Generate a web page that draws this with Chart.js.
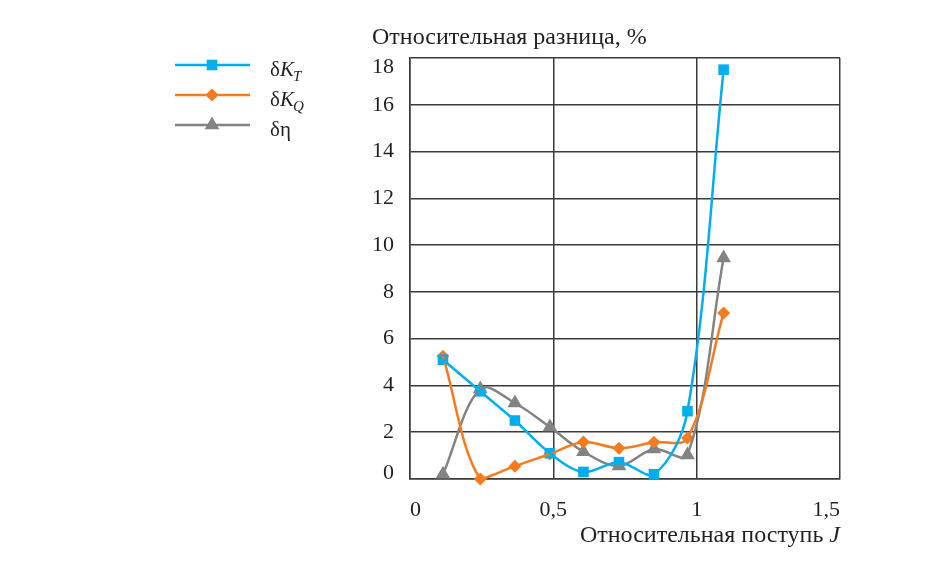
<!DOCTYPE html>
<html lang="ru">
<head>
<meta charset="UTF-8">
<script src="https://cdn.jsdelivr.net/npm/chart.js"></script>
<title>Относительная разница</title>
<style>
  html, body { margin: 0; padding: 0; background: #fff; }
</style>
</head>
<body>
<canvas id="chart" width="930" height="569"></canvas>
<script>
// relative advance J and the three relative differences, %
const J = [0.115, 0.245, 0.366, 0.488, 0.605, 0.729, 0.851, 0.968, 1.094];
const dKT = [5.1, 3.75, 2.5, 1.1, 0.3, 0.72, 0.2, 2.9, 17.5];
const dKQ = [5.25, 0.0, 0.55, 1.07, 1.58, 1.32, 1.57, 1.75, 7.1];
const dEta = [0.2, 3.85, 3.25, 2.22, 1.17, 0.56, 1.28, 1.03, 9.45];
const xTickLabels = ['0', '0,5', '1', '1,5'];

const BLUE = '#00aeef';
const ORANGE = '#f47b20';
const GRAY = '#838385';
const GRID = '#3a3a3a';
const INK = '#231f20';
const FONT = '"Liberation Serif", "DejaVu Serif", serif';

const series = [
    { name: 'KT', data: dKT, color: BLUE, style: 'rect', radius: 7.5 },
    { name: 'KQ', data: dKQ, color: ORANGE, style: 'rectRot', radius: 6.5 },
    { name: 'eta', data: dEta, color: GRAY, style: 'triangle', radius: 8.5 }
];

function pts(arr) {
    return J.map((x, i) => ({ x: x, y: arr[i] }));
}

const datasets = [];
// lines (clipped to plot area)
series.forEach(s => {
    datasets.push({
        data: pts(s.data),
        borderColor: s.color,
        borderWidth: 2.5,
        pointRadius: 0,
        tension: 0.35,
        fill: false
    });
});
// markers (not clipped)
series.forEach(s => {
    datasets.push({
        data: pts(s.data),
        showLine: false,
        pointStyle: s.style,
        pointRadius: s.radius,
        pointBorderWidth: 0,
        backgroundColor: s.color,
        borderColor: s.color,
        clip: false
    });
});

function marker(ctx, style, x, y, r) {
    ctx.beginPath();
    if (style === 'rect') {
        const h = r * Math.SQRT1_2;
        ctx.rect(x - h, y - h, 2 * h, 2 * h);
    } else if (style === 'rectRot') {
        ctx.moveTo(x, y - r); ctx.lineTo(x + r, y); ctx.lineTo(x, y + r); ctx.lineTo(x - r, y);
    } else {
        ctx.moveTo(x, y - r);
        ctx.lineTo(x + r * 0.866, y + r * 0.5);
        ctx.lineTo(x - r * 0.866, y + r * 0.5);
    }
    ctx.closePath();
    ctx.fill();
}

const textPlugin = {
    id: 'texts',
    afterDraw(chart) {
        const ctx = chart.ctx;
        const yScale = chart.scales.y;
        ctx.save();
        ctx.fillStyle = INK;

        // y tick labels
        ctx.font = '22px ' + FONT;
        ctx.textAlign = 'right';
        ctx.textBaseline = 'middle';
        yScale.ticks.forEach(t => {
            let py = yScale.getPixelForValue(t.value);
            if (t.value === yScale.min) py -= 6;
            if (t.value === yScale.max) py += 9;
            ctx.fillText(String(t.value), 394, py);
        });

        // y title
        ctx.font = '24px ' + FONT;
        ctx.textAlign = 'left';
        ctx.textBaseline = 'alphabetic';
        ctx.fillText('Относительная разница, %', 372, 44);

        // x title
        ctx.textAlign = 'right';
        ctx.font = 'italic 24px ' + FONT;
        const jw = ctx.measureText('J').width;
        ctx.fillText('J', chart.chartArea.right, 542);
        ctx.font = '24px ' + FONT;
        ctx.fillText('Относительная поступь ', chart.chartArea.right - jw, 542);

        // legend
        const rows = [65, 95, 125];
        series.forEach((s, i) => {
            const ly = rows[i];
            ctx.strokeStyle = s.color;
            ctx.lineWidth = 2.5;
            ctx.beginPath();
            ctx.moveTo(175, ly);
            ctx.lineTo(250, ly);
            ctx.stroke();
            ctx.fillStyle = s.color;
            marker(ctx, s.style, 212, ly, s.radius);

            ctx.fillStyle = INK;
            ctx.textAlign = 'left';
            ctx.textBaseline = 'alphabetic';
            let tx = 270;
            const by = ly + 11;
            ctx.font = '21px ' + FONT;
            if (s.name === 'eta') {
                ctx.fillText('δη', tx, by);
                return;
            }
            ctx.fillText('δ', tx, by);
            tx += ctx.measureText('δ').width;
            ctx.font = 'italic 21px ' + FONT;
            ctx.fillText('K', tx, by);
            tx += ctx.measureText('K').width;
            ctx.font = 'italic 15px ' + FONT;
            ctx.fillText(s.name === 'KT' ? 'T' : 'Q', tx - 1, by + 5);
        });
        ctx.restore();
    }
};

new Chart(document.getElementById('chart'), {
    type: 'line',
    data: { datasets: datasets },
    options: {
        responsive: false,
        devicePixelRatio: 1,
        animation: false,
        layout: { padding: { left: 0, top: 58, right: 90, bottom: 0 } },
        plugins: { legend: { display: false }, tooltip: { enabled: false } },
        scales: {
            x: {
                type: 'linear',
                min: 0,
                max: 1.5,
                afterFit: s => { s.height = 90; },
                grid: { color: GRID, lineWidth: 1.5, drawTicks: false },
                border: { color: GRID, width: 1.5 },
                ticks: {
                    stepSize: 0.5,
                    align: 'inner',
                    padding: 18,
                    color: INK,
                    font: { family: FONT, size: 22 },
                    callback: (v, i) => xTickLabels[i]
                }
            },
            y: {
                min: 0,
                max: 18,
                afterFit: s => { s.width = 410; },
                grid: { color: GRID, lineWidth: 1.5, drawTicks: false },
                border: { color: GRID, width: 1.5 },
                ticks: { stepSize: 2, display: false }
            }
        }
    },
    plugins: [textPlugin]
});
</script>
</body>
</html>
